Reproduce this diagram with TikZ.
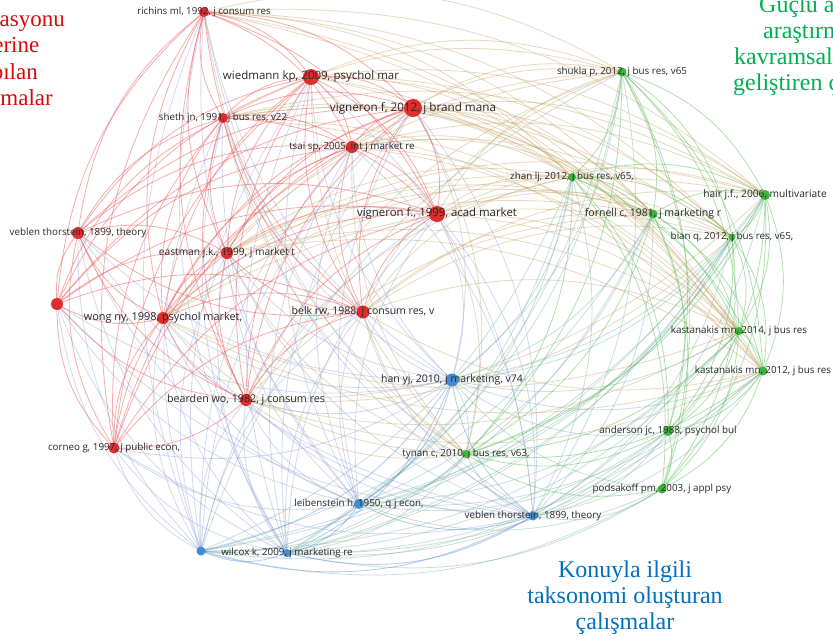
\documentclass[tikz,border=0pt]{standalone}
\usepackage{fontspec}
\setmainfont{Liberation Serif}
\newfontfamily\lblfont{Open Sans}
\definecolor{rnode}{RGB}{222,45,45}
\definecolor{gnode}{RGB}{60,180,60}
\definecolor{bnode}{RGB}{65,140,210}
\definecolor{redl}{RGB}{240,90,90}
\definecolor{greenl}{RGB}{100,195,95}
\definecolor{bluel}{RGB}{105,150,215}
\definecolor{rgl}{RGB}{200,165,105}
\definecolor{rbl}{RGB}{150,165,215}
\definecolor{bgl}{RGB}{125,180,170}
\definecolor{lblcol}{RGB}{40,40,40}
\definecolor{txtred}{RGB}{222,10,10}
\definecolor{txtgreen}{RGB}{0,176,80}
\definecolor{txtblue}{RGB}{0,112,192}
\newcommand\bendang{22}
\newcommand\myedge[3]{%
  \pgfpointdiff{\pgfpointanchor{ctr}{center}}{\pgfpointanchor{#2}{center}}%
  \pgfgetlastxy{\xa}{\ya}%
  \pgfpointdiff{\pgfpointanchor{ctr}{center}}{\pgfpointanchor{#3}{center}}%
  \pgfgetlastxy{\xb}{\yb}%
  \pgfmathsetmacro\crs{(\xa/100)*(\yb/100)-(\ya/100)*(\xb/100)}%
  \pgfmathsetmacro\bnd{\crs>0 ? -\bendang : \bendang}%
  \draw[#1] (#2) to[bend left=\bnd] (#3);%
}
\tikzset{
  dot/.style={circle, fill=#1, inner sep=0pt, draw=none},
  lbl/.style={font=\lblfont\fontsize{#1}{#1}\selectfont, text=lblcol, inner sep=0pt},
  edgebase/.style={line width=0.8pt, opacity=0.5},
  redge/.style={edgebase, draw=redl},
  gedge/.style={edgebase, draw=greenl},
  bedge/.style={edgebase, draw=bluel},
  rgedge/.style={edgebase, draw=rgl, opacity=0.42},
  rbedge/.style={edgebase, draw=rbl, opacity=0.42},
  bgedge/.style={edgebase, draw=bgl, opacity=0.42},
  bigtxt/.style={inner sep=0pt, font=\fontsize{24}{26}\selectfont},
  sidetxt/.style={inner sep=0pt, font=\fontsize{23}{26}\selectfont},
}
\begin{document}
\begin{tikzpicture}[x=1pt,y=-1pt]
\useasboundingbox (0,0) rectangle (833,641);
\clip (0,0) rectangle (833,641);
\fill[white] (0,0) rectangle (833,641);
\coordinate (ctr) at (430,320);
% red cluster
\coordinate (ric) at (204,12);
\coordinate (wie) at (311,77);
\coordinate (vi12) at (413,108);
\coordinate (she) at (223,118);
\coordinate (tsa) at (352,147);
\coordinate (vi99) at (437,214);
\coordinate (vbr) at (78,233);
\coordinate (eas) at (227,253);
\coordinate (ur) at (57,304);
\coordinate (won) at (163,318);
\coordinate (bel) at (363,312);
\coordinate (bea) at (246,400);
\coordinate (cor) at (114,448);
% blue cluster
\coordinate (han) at (452,380);
\coordinate (lei) at (359,504);
\coordinate (wic) at (201,551);
\coordinate (wil) at (287,553);
\coordinate (vbb) at (533,516);
% green cluster
\coordinate (shu) at (622,72);
\coordinate (zha) at (572,177);
\coordinate (hai) at (765,195);
\coordinate (for) at (653,214);
\coordinate (bia) at (732,237);
\coordinate (k14) at (739,331);
\coordinate (k12) at (763,371);
\coordinate (and) at (668,431);
\coordinate (tyn) at (466,454);
\coordinate (pod) at (662,489);
% edges
\def\redlist{ric,wie,vi12,she,tsa,vi99,vbr,eas,ur,won,bel,bea,cor}
\def\greenlist{shu,zha,hai,for,bia,k14,k12,and,tyn,pod}
\def\bluelist{han,lei,wic,wil,vbb}
\foreach \a in {ric,wie,vi12,she,tsa,vi99,eas,won,bel,bea} {\foreach \b in {shu,zha,hai,for,bia,k14,k12,tyn} {\myedge{rgedge}{\a}{\b}}}
\foreach \a in \redlist {\foreach \b in \bluelist {\myedge{rbedge}{\a}{\b}}}
\foreach \a in \bluelist {\foreach \b in \greenlist {\myedge{bgedge}{\a}{\b}}}
\foreach \a [count=\i] in \redlist {\foreach \b [count=\j] in \redlist {\ifnum\j>\i \myedge{redge}{\a}{\b}\fi}}
\foreach \a [count=\i] in \greenlist {\foreach \b [count=\j] in \greenlist {\ifnum\j>\i \myedge{gedge}{\a}{\b}\fi}}
\foreach \a [count=\i] in \bluelist {\foreach \b [count=\j] in \bluelist {\ifnum\j>\i \myedge{bedge}{\a}{\b}\fi}}
% dots
\node[dot=rnode, minimum size=10pt] (ricd) at (ric) {};
\node[dot=rnode, minimum size=16pt] (wied) at (wie) {};
\node[dot=rnode, minimum size=18pt] (vi12d) at (vi12) {};
\node[dot=rnode, minimum size=10pt] (shed) at (she) {};
\node[dot=rnode, minimum size=12pt] (tsad) at (tsa) {};
\node[dot=rnode, minimum size=16pt] (vi99d) at (vi99) {};
\node[dot=rnode, minimum size=12pt] (vbrd) at (vbr) {};
\node[dot=rnode, minimum size=12pt] (easd) at (eas) {};
\node[dot=rnode, minimum size=12pt] (urd) at (ur) {};
\node[dot=rnode, minimum size=12pt] (wond) at (won) {};
\node[dot=rnode, minimum size=13pt] (beld) at (bel) {};
\node[dot=rnode, minimum size=12pt] (bead) at (bea) {};
\node[dot=rnode, minimum size=11pt] (cord) at (cor) {};
\node[dot=bnode, minimum size=13pt] (hand) at (han) {};
\node[dot=bnode, minimum size=10pt] (leid) at (lei) {};
\node[dot=bnode, minimum size=9pt] (wicd) at (wic) {};
\node[dot=bnode, minimum size=8pt] (wild) at (wil) {};
\node[dot=bnode, minimum size=9pt] (vbbd) at (vbb) {};
\node[dot=gnode, minimum size=9pt] (shud) at (shu) {};
\node[dot=gnode, minimum size=8pt] (zhad) at (zha) {};
\node[dot=gnode, minimum size=10pt] (haid) at (hai) {};
\node[dot=gnode, minimum size=9pt] (ford) at (for) {};
\node[dot=gnode, minimum size=7pt] (biad) at (bia) {};
\node[dot=gnode, minimum size=8pt] (k14d) at (k14) {};
\node[dot=gnode, minimum size=9pt] (k12d) at (k12) {};
\node[dot=gnode, minimum size=10pt] (andd) at (and) {};
\node[dot=gnode, minimum size=8pt] (tynd) at (tyn) {};
\node[dot=gnode, minimum size=9pt] (podd) at (pod) {};
% labels
\node[lbl=9.7] (ricl) at (ric) {richins ml, 1992, j consum res};
\node[lbl=11.5] (wiel) at (wie) {wiedmann kp, 2009, psychol mar};
\node[lbl=11.7] (vi12l) at (vi12) {vigneron f, 2012, j brand mana};
\node[lbl=9.8] (shel) at (she) {sheth jn, 1991, j bus res, v22};
\node[lbl=9.8] (tsal) at (tsa) {tsai sp, 2005, int j market re};
\node[lbl=11.4] (vi99l) at (vi99) {vigneron f., 1999, acad market};
\node[lbl=9.8] (vbrl) at (vbr) {veblen thorstein, 1899, theory};
\node[lbl=10.2] (easl) at (eas) {eastman j.k., 1999, j market t};
\node[lbl=10.9] (wonl) at (won) {wong ny, 1998, psychol market,};
\node[lbl=10.5] (bell) at (bel) {belk rw, 1988, j consum res, v};
\node[lbl=10.7] (beal) at (bea) {bearden wo, 1982, j consum res};
\node[lbl=9.8] (corl) at (cor) {corneo g, 1997, j public econ,};
\node[lbl=10.5] (hanl) at (han) {han yj, 2010, j marketing, v74};
\node[lbl=9.8] (leil) at (lei) {leibenstein h, 1950, q j econ,};
\node[lbl=9.8] (will) at (wil) {wilcox k, 2009, j marketing re};
\node[lbl=9.8] (vbbl) at (vbb) {veblen thorstein, 1899, theory};
\node[lbl=9.8] (shul) at (shu) {shukla p, 2012, j bus res, v65};
\node[lbl=9.8] (zhal) at (zha) {zhan lj, 2012, j bus res, v65,};
\node[lbl=10.2] (hail) at (hai) {hair j.f., 2006, multivariate};
\node[lbl=10.5] (forl) at (for) {fornell c, 1981, j marketing r};
\node[lbl=9.8] (bial) at (bia) {bian q, 2012, j bus res, v65,};
\node[lbl=9.8] (k14l) at (k14) {kastanakis mn, 2014, j bus res};
\node[lbl=9.8] (k12l) at (k12) {kastanakis mn, 2012, j bus res};
\node[lbl=9.8] (andl) at (and) {anderson jc, 1988, psychol bul};
\node[lbl=9.8] (tynl) at (tyn) {tynan c, 2010, j bus res, v63,};
\node[lbl=9.8] (podl) at (pod) {podsakoff pm, 2003, j appl psy};
% corner texts
\node[sidetxt, text=txtred, anchor=base east] (r1) at (65,26) {motivasyonu};
\node[sidetxt, text=txtred, anchor=base east] (r2) at (39.5,52.5) {üzerine};
\node[sidetxt, text=txtred, anchor=base east] (r3) at (38,79) {yapılan};
\node[sidetxt, text=txtred, anchor=base east] (r4) at (53,105.5) {çalışmalar};
\node[bigtxt, text=txtgreen, anchor=base west] (g1) at (759,12.7) {Güçlü akademik};
\node[bigtxt, text=txtgreen, anchor=base west] (g2) at (763,38.5) {araştırmaların};
\node[bigtxt, text=txtgreen, anchor=base west] (g3) at (734,64.5) {kavramsal çerçevesini};
\node[bigtxt, text=txtgreen, anchor=base west] (g4) at (733,90) {geliştiren çalışmalar};
\node[bigtxt, text=txtblue, anchor=base] (b1) at (625,577) {Konuyla ilgili};
\node[bigtxt, text=txtblue, anchor=base] (b2) at (625,603) {taksonomi oluşturan};
\node[bigtxt, text=txtblue, anchor=base] (b3) at (625,629) {çalışmalar};
\end{tikzpicture}
\end{document}
